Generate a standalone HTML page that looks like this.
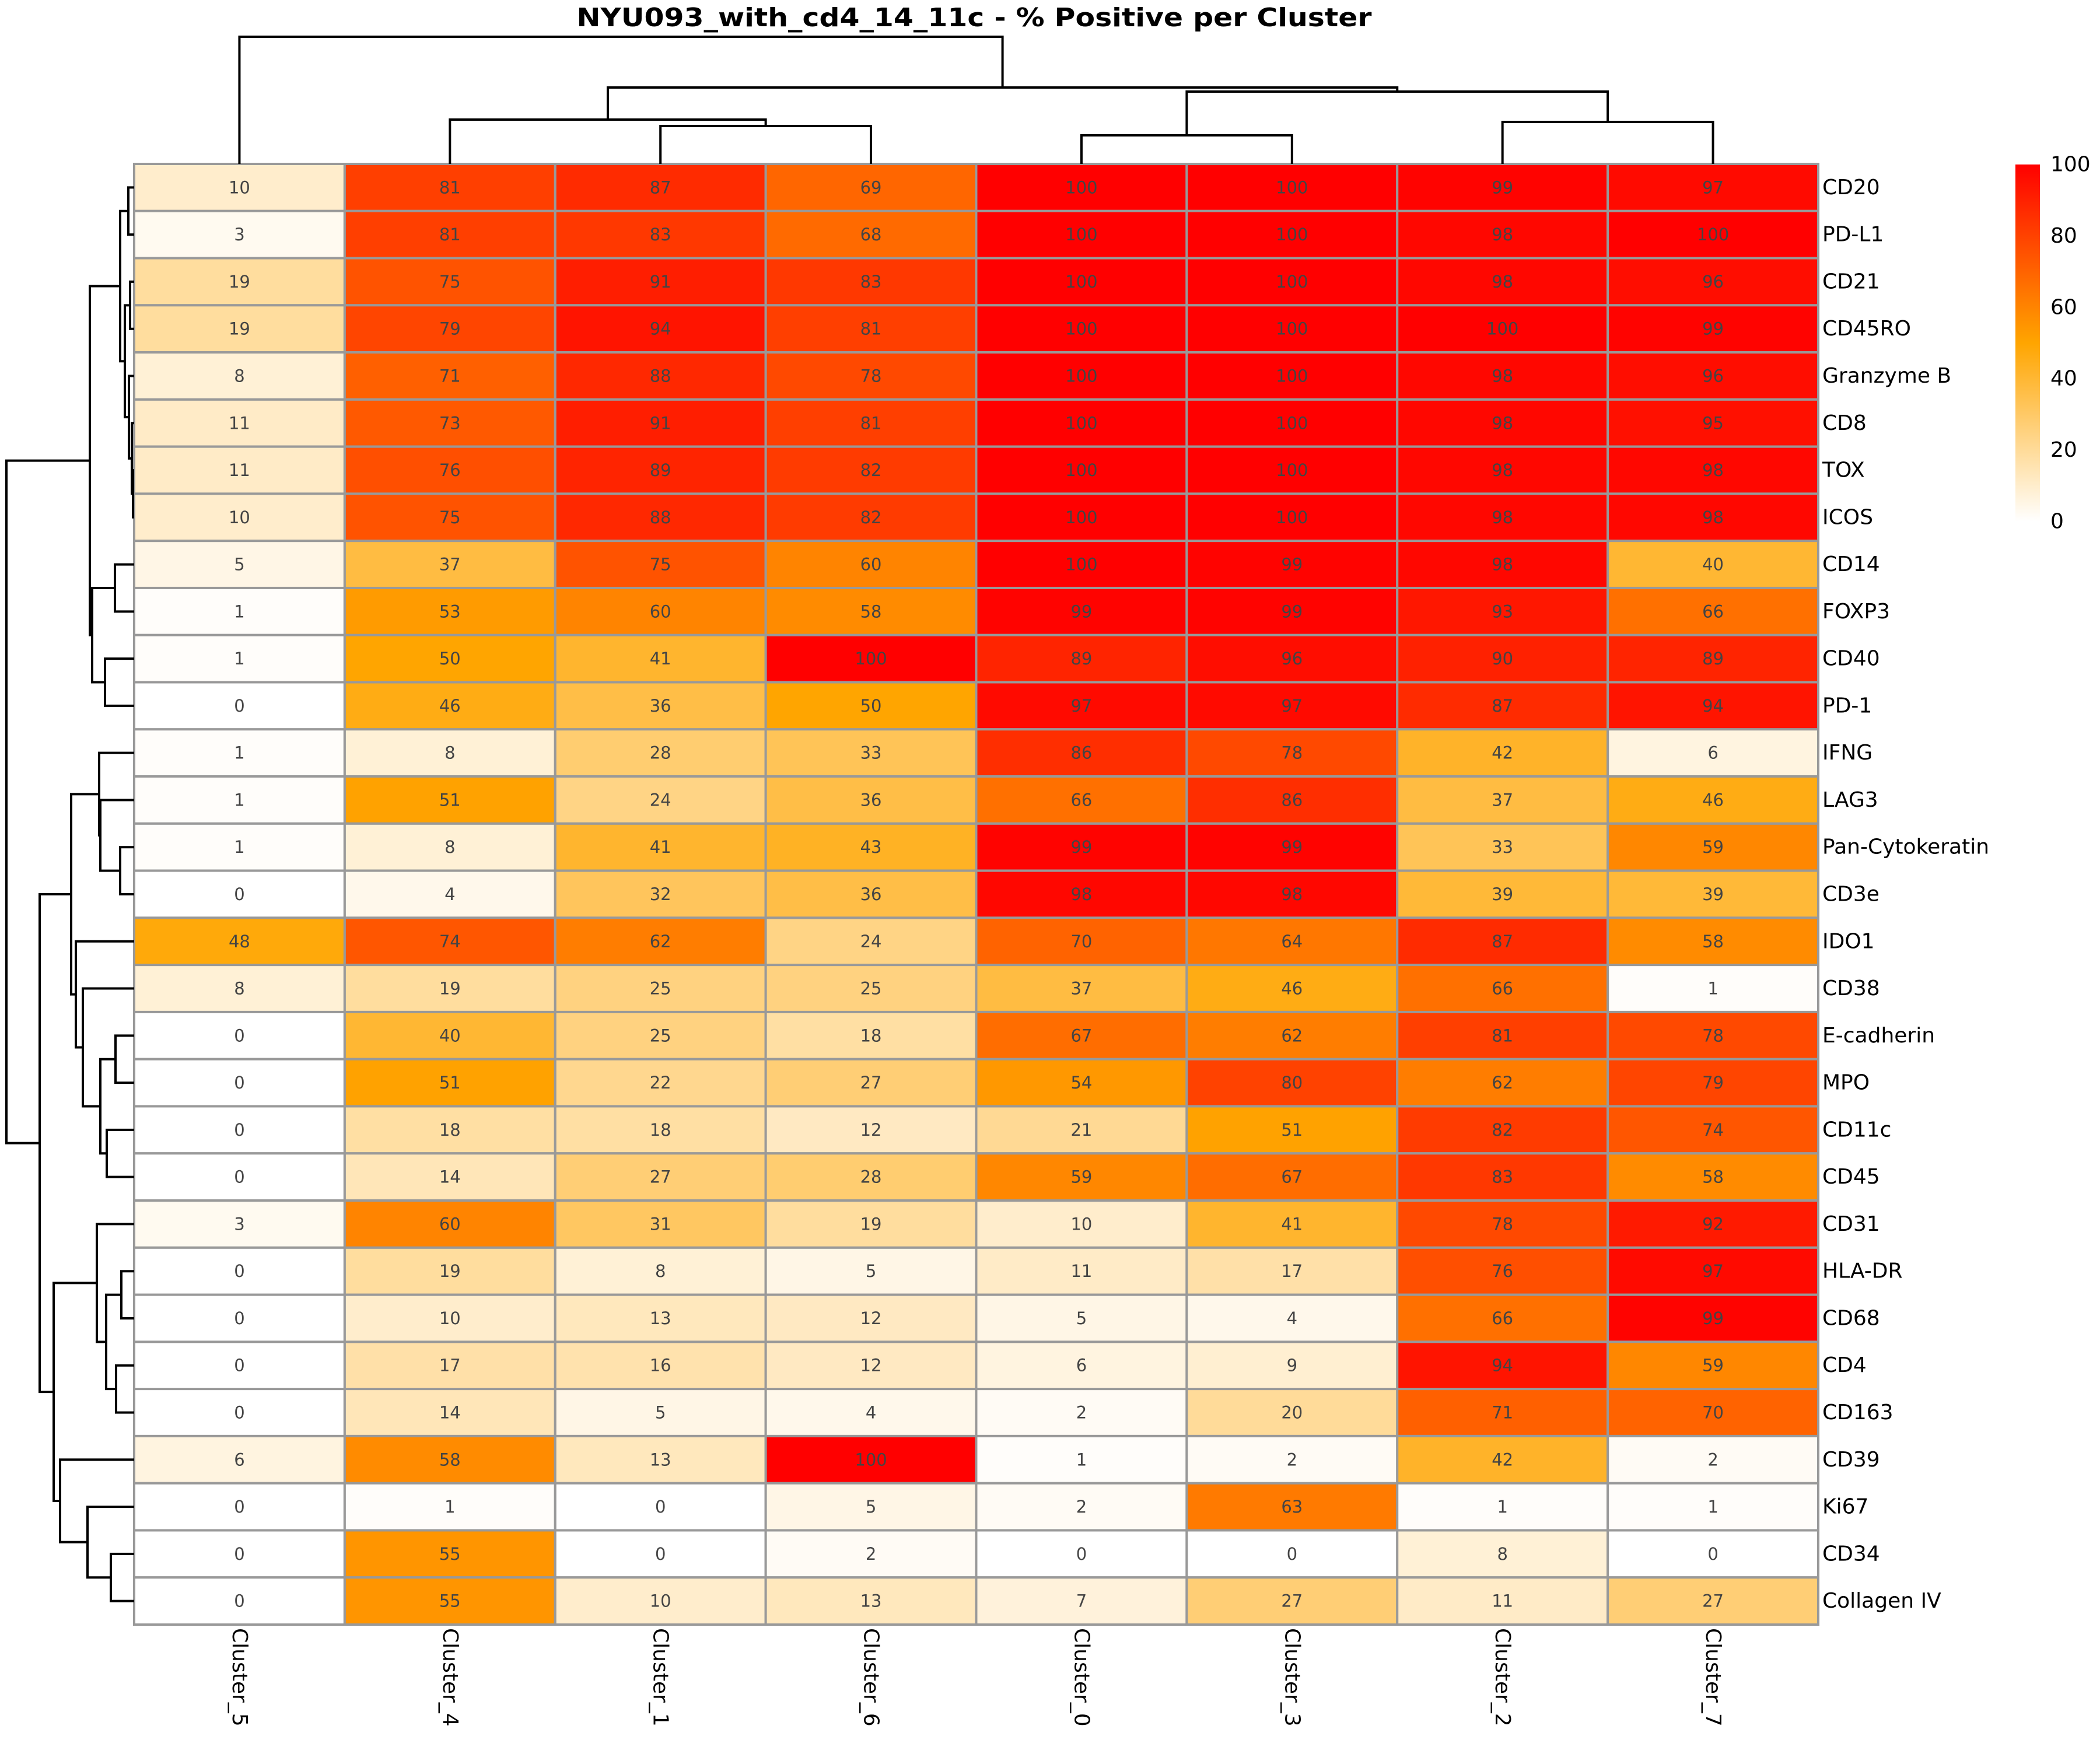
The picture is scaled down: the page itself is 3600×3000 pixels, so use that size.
<!DOCTYPE html>
<html><head><meta charset="utf-8"><title>NYU093 heatmap</title>
<style>html,body{margin:0;padding:0;background:#fff}svg{display:block}</style>
</head><body>
<svg id="chart" xmlns="http://www.w3.org/2000/svg" width="3600" height="3000" viewBox="0 0 3600 3000" font-family="'DejaVu Sans','Liberation Sans',sans-serif">
<rect x="0" y="0" width="3600" height="3000" fill="#fff"/>
<text x="1670" y="45" text-anchor="middle" font-size="44" font-weight="bold" textLength="1363" lengthAdjust="spacingAndGlyphs">NYU093_with_cd4_14_11c - % Positive per Cluster</text>
<g id="cells"></g><g id="rowdend"></g><g id="coldend"></g><g id="labels"></g><g id="cbar"></g>
</svg>
<script>
const columns = ["Cluster_5","Cluster_4","Cluster_1","Cluster_6","Cluster_0","Cluster_3","Cluster_2","Cluster_7"];
const markers = ["CD20","PD-L1","CD21","CD45RO","Granzyme B","CD8","TOX","ICOS","CD14","FOXP3","CD40","PD-1","IFNG","LAG3","Pan-Cytokeratin","CD3e","IDO1","CD38","E-cadherin","MPO","CD11c","CD45","CD31","HLA-DR","CD68","CD4","CD163","CD39","Ki67","CD34","Collagen IV"];
const values = [
[10,81,87,69,100,100,99,97],
[3,81,83,68,100,100,98,100],
[19,75,91,83,100,100,98,96],
[19,79,94,81,100,100,100,99],
[8,71,88,78,100,100,98,96],
[11,73,91,81,100,100,98,95],
[11,76,89,82,100,100,98,98],
[10,75,88,82,100,100,98,98],
[5,37,75,60,100,99,98,40],
[1,53,60,58,99,99,93,66],
[1,50,41,100,89,96,90,89],
[0,46,36,50,97,97,87,94],
[1,8,28,33,86,78,42,6],
[1,51,24,36,66,86,37,46],
[1,8,41,43,99,99,33,59],
[0,4,32,36,98,98,39,39],
[48,74,62,24,70,64,87,58],
[8,19,25,25,37,46,66,1],
[0,40,25,18,67,62,81,78],
[0,51,22,27,54,80,62,79],
[0,18,18,12,21,51,82,74],
[0,14,27,28,59,67,83,58],
[3,60,31,19,10,41,78,92],
[0,19,8,5,11,17,76,97],
[0,10,13,12,5,4,66,99],
[0,17,16,12,6,9,94,59],
[0,14,5,4,2,20,71,70],
[6,58,13,100,1,2,42,2],
[0,1,0,5,2,63,1,1],
[0,55,0,2,0,0,8,0],
[0,55,10,13,7,27,11,27]];
const colorbarTicks = [0,20,40,60,80,100];
// dendrogram structures: [linkPos, left, right]; leaves are indices
const rowTree = [11,
  [154, [206,[220,0,1],[214,[223,2,3],[221,4,[226,5,[228,6,7]]]]], [158,[197,8,9],[180,10,11]]],
  [68,
    [122, [170,12,[172,13,[206,14,15]]], [130,16,[142,17,[172,[198,18,19],[183,20,21]]]]],
    [92, [166,22,[182,[208,23,24],[199,25,26]]], [103,27,[150,28,[190,29,30]]]]]];
const colTree = [63, 0, [150, [205,1,[216,2,3]], [157,[232,4,5],[209,6,7]]]];

const NS="http://www.w3.org/2000/svg";
const X0=230,X1=3117,Y0=281,Y1=2785;
const cw=(X1-X0)/columns.length, rh=(Y1-Y0)/markers.length;
const xc=i=>X0+cw*(i+0.5), yc=i=>Y0+rh*(i+0.5);
function color(v){
  let r,g,b;
  if(v<=50){const t=v/50;r=255;g=255+(165-255)*t;b=255*(1-t);}
  else{const t=(v-50)/50;r=255;g=165*(1-t);b=0;}
  return `rgb(${Math.round(r)},${Math.round(g)},${Math.round(b)})`;
}
function mk(tag,attrs,parent){const e=document.createElementNS(NS,tag);for(const k in attrs)e.setAttribute(k,attrs[k]);parent.appendChild(e);return e;}
const cells=document.getElementById('cells');
values.forEach((row,r)=>row.forEach((v,c)=>{
  const rect=mk('rect',{x:X0+c*cw,y:Y0+r*rh,width:cw,height:rh,fill:color(v),stroke:'#999','stroke-width':4},cells);
  
  
  const t=mk('text',{x:xc(c),y:yc(r),'text-anchor':'middle','dominant-baseline':'central','font-size':29,fill:'#444'},cells);
  
  
  t.textContent=v;
}));
const labels=document.getElementById('labels');
markers.forEach((m,r)=>{
  const t=mk('text',{x:X1+7,y:yc(r),'dominant-baseline':'central','font-size':36,fill:'#000'},labels);
  
  
  t.textContent=m;
});
columns.forEach((c,i)=>{
  const t=mk('text',{x:0,y:0,transform:`translate(${xc(i)},${Y1+6}) rotate(90)`,'dominant-baseline':'central','font-size':36,fill:'#000'},labels);
  
  
  t.textContent=c;
});
// dendrograms
const rd=document.getElementById('rowdend');
function drawRow(node){
  if(typeof node==='number') return {p:yc(node),h:X0};
  const a=drawRow(node[1]), b=drawRow(node[2]), x=node[0];
  const p=mk('path',{d:`M${a.h},${a.p}H${x}V${b.p}H${b.h}`,fill:'none',stroke:'#000','stroke-width':4},rd);
  
  
  return {p:(a.p+b.p)/2,h:x};
}
drawRow(rowTree);
const cd=document.getElementById('coldend');
function drawCol(node){
  if(typeof node==='number') return {p:xc(node),h:Y0};
  const a=drawCol(node[1]), b=drawCol(node[2]), y=node[0];
  const p=mk('path',{d:`M${a.p},${a.h}V${y}H${b.p}V${b.h}`,fill:'none',stroke:'#000','stroke-width':4},cd);
  
  
  return {p:(a.p+b.p)/2,h:y};
}
drawCol(colTree);
// colorbar
const cb=document.getElementById('cbar');
const BX=3455,BW=42,BT=282,BB=894;
const defs=mk('defs',{},cb);
const lg=mk('linearGradient',{id:'cg',x1:0,y1:1,x2:0,y2:0},defs);
for(let v=0;v<=100;v+=10){mk('stop',{offset:(v/100),'stop-color':color(v)},lg);}
const bar=mk('rect',{x:BX,y:BT,width:BW,height:BB-BT,fill:'url(#cg)'},cb);


colorbarTicks.forEach(v=>{
  const y=BB-(BB-BT)*v/100;
  const t=mk('text',{x:3515,y:y,'dominant-baseline':'central','font-size':36,fill:'#000'},cb);
  
  
  t.textContent=v;
});
</script>
</body></html>
